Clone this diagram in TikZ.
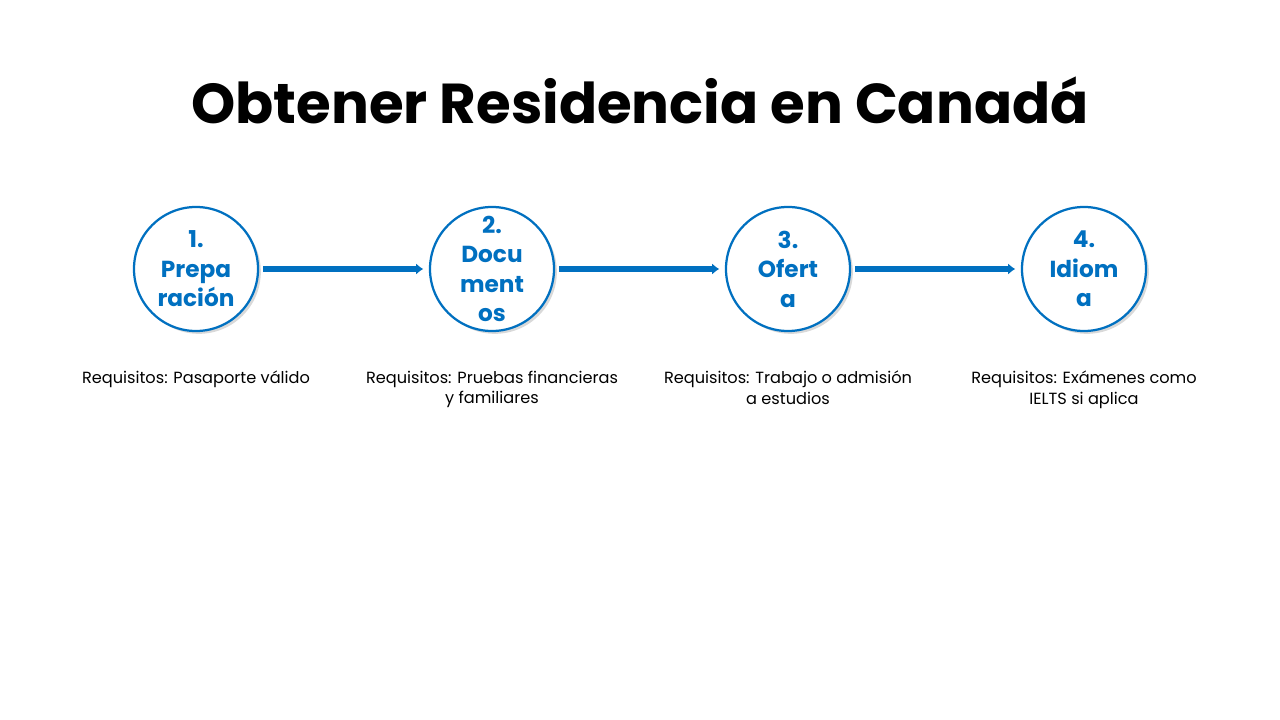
\documentclass[tikz,border=0pt]{standalone}
\usepackage{fontspec}
\setmainfont{Poppins}
\usetikzlibrary{positioning,shadows,arrows.meta}
\definecolor{stepblue}{HTML}{0070C0}
\begin{document}
\begin{tikzpicture}[x=0.025cm,y=-0.025cm,
    stepnode/.style={circle, draw=stepblue, line width=1.6pt, fill=white, minimum size=3.1cm, inner sep=0pt, align=center, text=stepblue, font=\fontsize{16.5}{21}\selectfont\bfseries, drop shadow={opacity=0.3, shadow xshift=2pt, shadow yshift=-2pt}},
    reqnode/.style={align=center, font=\fontsize{11.5}{14.5}\selectfont},
    flow/.style={-{Latex[length=5pt,width=8pt]}, draw=stepblue, line width=4pt, shorten <=3pt, shorten >=4pt}
]
\useasboundingbox (0,0) rectangle (1280,720);

% Title
\node[font=\fontsize{40}{46}\selectfont\bfseries] (title) at (640,100) {Obtener Residencia en Canadá};

% Steps
\node[stepnode] (prep) at (196,269) {1.\\Prepa\\ración};
\node[stepnode] (docs) at (492,269) {2.\\Docu\\ment\\os};
\node[stepnode] (oferta) at (788,269) {3.\\Ofert\\a};
\node[stepnode] (idioma) at (1084,269) {4.\\Idiom\\a};

% Arrows
\draw[flow] (prep) -- (docs);
\draw[flow] (docs) -- (oferta);
\draw[flow] (oferta) -- (idioma);

% Requirements
\node[reqnode, anchor=north] (reqprep) at (196,366) {Requisitos: Pasaporte válido};
\node[reqnode, anchor=north] (reqdocs) at (492,366) {Requisitos: Pruebas financieras\\y familiares};
\node[reqnode, anchor=north] (reqoferta) at (788,366) {Requisitos: Trabajo o admisión\\a estudios};
\node[reqnode, anchor=north] (reqidioma) at (1084,366) {Requisitos: Exámenes como\\IELTS si aplica};

\end{tikzpicture}
\end{document}
